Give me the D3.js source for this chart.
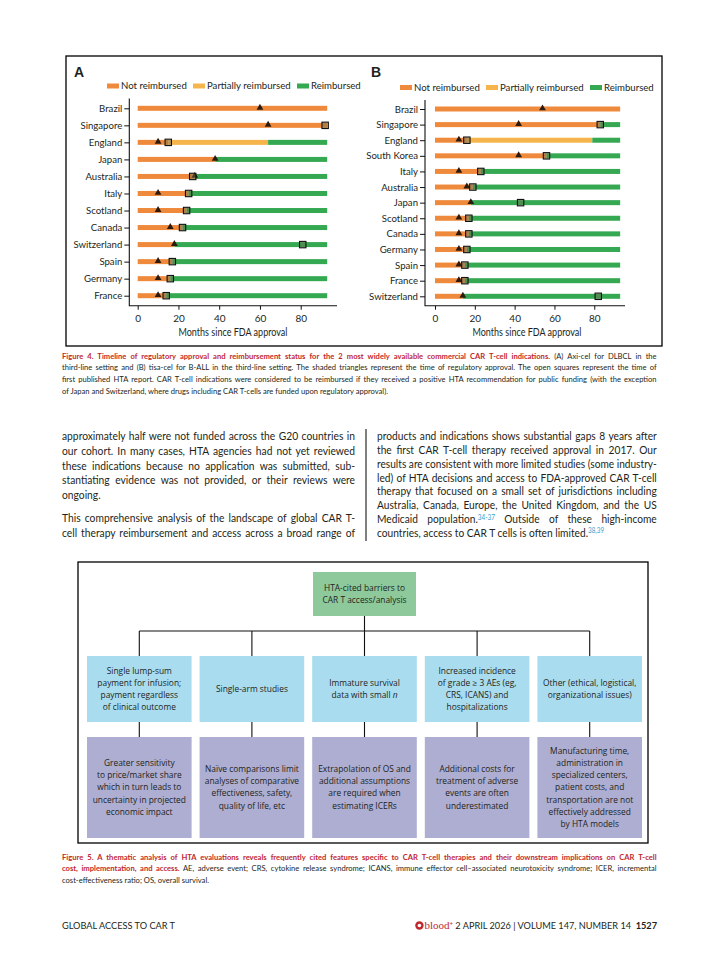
<!DOCTYPE html>
<html><head><meta charset="utf-8">
<script src="https://cdn.jsdelivr.net/npm/d3@7"></script>
<style>html,body{margin:0;padding:0;background:#fff;}svg{display:block;}</style>
</head><body>
<script>
// ---------- DATA ----------
const statusLabels = ["Not reimbursed", "Partially reimbursed", "Reimbursed"];
const tickValues = [0, 20, 40, 60, 80];
const studyEnd = 93;

const countriesA = ["Brazil","Singapore","England","Japan","Australia","Italy","Scotland","Canada","Switzerland","Spain","Germany","France"];
const approvalA  = [60, 64, 10, 38, 28, 10, 10, 16, 18, 10, 10, 10];
const htaA       = [null, 92, 15, null, 27, 25, 24, 22, 81, 17, 16, 14];
const notEndA    = [93, 93, 15, 38, 28, 25, 24, 22, 18, 17, 16, 14];
const partEndA   = [93, 93, 64, 38, 28, 25, 24, 22, 18, 17, 16, 14];

const countriesB = ["Brazil","Singapore","England","South Korea","Italy","Australia","Japan","Scotland","Canada","Germany","Spain","France","Switzerland"];
const approvalB  = [54, 42, 12, 42, 12, 16, 18, 12, 12, 12, 12, 12, 14];
const htaB       = [null, 83, 16, 56, 23, 19, 43, 17, 17, 16, 15, 15, 82];
const notEndB    = [93, 83, 16, 56, 23, 19, 18, 17, 17, 16, 15, 15, 14];
const partEndB   = [93, 83, 79, 56, 23, 19, 18, 17, 17, 16, 15, 15, 14];

// ---------- STYLE ----------
const C_OR = "#ef8a3c", C_YE = "#f5b54c", C_GR = "#35a852";
const colors = [C_OR, C_YE, C_GR];
const INK = "#231f20", RED = "#c1272d", LINK = "#3a9ccc";
const FONT = "Lato, 'Open Sans', sans-serif";

const svg = d3.select("body").append("svg").attr("width", 719).attr("height", 965);
svg.append("rect").attr("width", 719).attr("height", 965).attr("fill", "#fff");

// Figure 4 frame
svg.append("rect").attr("x", 66).attr("y", 56).attr("width", 596).attr("height", 290)
  .attr("fill", "none").attr("stroke", "#000").attr("stroke-width", 1.3);

function panel(opt) {
  const g = svg.append("g");
  const x = d3.scaleLinear().domain([0, studyEnd]).range([opt.x0, opt.x0 + studyEnd * opt.pxPerMonth]);
  const y = d3.scalePoint().domain(opt.countries).range([opt.yTop, opt.yBot]);
  g.append("text").attr("x", opt.letterX).attr("y", 77).text(opt.letter)
    .attr("font-family", "'Liberation Sans', Arial, sans-serif").attr("font-weight", "bold").attr("font-size", 14).attr("fill", INK);
  statusLabels.forEach((s, i) => {
    const lx = opt.legendX[i];
    g.append("rect").attr("x", lx).attr("y", opt.legendY - 2.5).attr("width", 12).attr("height", 5).attr("fill", colors[i]);
    g.append("text").attr("x", lx + 14).attr("y", opt.legendY + 3.3).text(s)
      .attr("font-family", FONT).attr("font-size", 9.6).attr("fill", INK);
  });
  const rows = opt.countries.map((c, i) => ({
    c, segs: [[0, opt.notEnd[i], 0], [opt.notEnd[i], opt.partEnd[i], 1], [opt.partEnd[i], studyEnd, 2]].filter(s => s[1] > s[0]),
    a: opt.approval[i], h: opt.hta[i]
  }));
  const bh = 5;
  rows.forEach(r => {
    g.selectAll(null).data(r.segs).enter().append("rect")
      .attr("x", d => x(d[0])).attr("width", d => x(d[1]) - x(d[0]))
      .attr("y", y(r.c) - bh / 2).attr("height", bh).attr("fill", d => colors[d[2]]);
  });
  g.selectAll(null).data(rows).enter().append("path")
    .attr("d", d3.symbol(d3.symbolTriangle).size(20))
    .attr("transform", d => `translate(${x(d.a)},${y(d.c) - 0.6})`)
    .attr("fill", "#2a1a10");
  g.selectAll(null).data(rows.filter(d => d.h != null)).enter().append("rect")
    .attr("x", d => x(d.h) - 3.2).attr("y", d => y(d.c) - 3.2).attr("width", 6.4).attr("height", 6.4)
    .attr("fill", "rgba(110,110,80,0.45)").attr("stroke", "#111").attr("stroke-width", 1.1);
  const ax = g.append("g").attr("transform", `translate(0,${opt.axisY})`)
    .call(d3.axisBottom(x).tickValues(tickValues).tickSize(4).tickSizeOuter(0));
  ax.select(".domain").remove();
  ax.selectAll("line").attr("stroke", "#111");
  ax.selectAll("text").attr("font-family", FONT).attr("font-size", 10).attr("fill", INK).attr("dy", "0.9em");
  const ay = g.append("g").attr("transform", `translate(${opt.axisX},0)`)
    .call(d3.axisLeft(y).tickSize(5).tickPadding(2).tickSizeOuter(0));
  ay.select(".domain").remove();
  ay.selectAll("line").attr("stroke", "#111");
  ay.selectAll("text").attr("font-family", FONT).attr("font-size", 9.6).attr("fill", INK);
  g.append("path").attr("d", `M${opt.axisX},${opt.axisTop}V${opt.axisY}H${opt.axisEnd}`)
    .attr("fill", "none").attr("stroke", "#111").attr("stroke-width", 1.1);
  const t = g.append("text").text("Months since FDA approval")
    .attr("font-family", FONT).attr("font-size", 10.5).attr("fill", INK).attr("text-anchor", "middle");
  t.attr("transform", `translate(${opt.titleX},${opt.titleY}) scale(0.86,1)`);
}

panel({ letter: "A", letterX: 74, legendX: [107, 193, 297], legendY: 86,
  countries: countriesA, approval: approvalA, hta: htaA, notEnd: notEndA, partEnd: partEndA,
  x0: 137.7, pxPerMonth: 2.0375, yTop: 108.3, yBot: 295.7, axisX: 129.3, axisY: 305.7, axisTop: 98.5, axisEnd: 337,
  titleX: 233, titleY: 336 });
panel({ letter: "B", letterX: 371, legendX: [400, 486, 590], legendY: 87.5,
  countries: countriesB, approval: approvalB, hta: htaB, notEnd: notEndB, partEnd: partEndB,
  x0: 435, pxPerMonth: 1.991, yTop: 109, yBot: 296.3, axisX: 425, axisY: 305.7, axisTop: 100, axisEnd: 625,
  titleX: 527, titleY: 336 });

// ---------- justified paragraph helper ----------
function paragraph(x, width, size, lines, maxScale) {
  const made = lines.map(l => {
    const t = svg.append("text").attr("font-family", FONT).attr("font-size", size).attr("fill", INK);
    l.parts.forEach(p => {
      const s = t.append("tspan").text(p.t).attr("fill", p.c || INK);
      if (p.b) s.attr("font-weight", "bold");
      if (p.sup) s.attr("font-size", size * 0.62).attr("baseline-shift", "super");
    });
    const L = t.node().getComputedTextLength();
    const n = l.parts.reduce((a, p) => a + (p.t.match(/ /g) || []).length, 0);
    return { t, L, n, l };
  });
  let kPara = maxScale;
  made.forEach(m => { if (!m.l.last) kPara = Math.min(kPara, width / m.L); });
  const ks = [];
  made.forEach(m => {
    if (m.l.last) return;
    const own = Math.min(maxScale, width / m.L);
    m.k = kPara + 0.5 * (own - kPara);
    ks.push(m.k);
    if (m.n > 0) m.t.attr("word-spacing", (width / m.k - m.L) / m.n);
  });
  const kAvg = d3.mean(ks);
  made.forEach(m => {
    const k = m.l.last ? kAvg : m.k;
    m.t.attr("transform", `translate(${x},${m.l.y}) scale(${k},1)`);
  });
}

const capSize = 8;
paragraph(62, 595, capSize, [
  { y: 358.5, parts: [{ t: "Figure 4. Timeline of regulatory approval and reimbursement status for the 2 most widely available commercial CAR T-cell indications.", c: RED, b: true }, { t: " (A) Axi-cel for DLBCL in the" }] },
  { y: 370.3, parts: [{ t: "third-line setting and (B) tisa-cel for B-ALL in the third-line setting. The shaded triangles represent the time of regulatory approval. The open squares represent the time of" }] },
  { y: 382.1, parts: [{ t: "first published HTA report. CAR T-cell indications were considered to be reimbursed if they received a positive HTA recommendation for public funding (with the exception" }] },
  { y: 393.9, last: true, parts: [{ t: "of Japan and Switzerland, where drugs including CAR T-cells are funded upon regulatory approval)." }] }
], 0.95);

const bodySize = 10.6;
const leftLines = [
  "approximately half were not funded across the G20 countries in",
  "our cohort. In many cases, HTA agencies had not yet reviewed",
  "these indications because no application was submitted, sub-",
  "stantiating evidence was not provided, or their reviews were",
  "ongoing.",
  "This comprehensive analysis of the landscape of global CAR T-",
  "cell therapy reimbursement and access across a broad range of"];
const leftY = [440, 454.8, 469.6, 484.4, 499, 522, 536.5];
paragraph(62, 293, bodySize, leftLines.map((s, i) => ({ y: leftY[i], last: i === 4, parts: [{ t: s }] })), 0.97);

const rightY = [440, 453.8, 467.6, 481.5, 495.3, 509.1, 522.8, 536.5];
const rightParts = [
  [{ t: "products and indications shows substantial gaps 8 years after" }],
  [{ t: "the first CAR T-cell therapy received approval in 2017. Our" }],
  [{ t: "results are consistent with more limited studies (some industry-" }],
  [{ t: "led) of HTA decisions and access to FDA-approved CAR T-cell" }],
  [{ t: "therapy that focused on a small set of jurisdictions including" }],
  [{ t: "Australia, Canada, Europe, the United Kingdom, and the US" }],
  [{ t: "Medicaid population." }, { t: "34-37", sup: true, c: LINK }, { t: " Outside of these high-income" }],
  [{ t: "countries, access to CAR T cells is often limited." }, { t: "38,39", sup: true, c: LINK }]];
paragraph(377, 280, bodySize, rightParts.map((p, i) => ({ y: rightY[i], last: i === 7, parts: p })), 0.97);
svg.append("line").attr("x1", 366).attr("x2", 366).attr("y1", 429).attr("y2", 541).attr("stroke", "#000").attr("stroke-width", 1);

// ---------- Figure 5 ----------
svg.append("rect").attr("x", 78).attr("y", 562).attr("width", 570).attr("height", 281)
  .attr("fill", "none").attr("stroke", "#000").attr("stroke-width", 1.3);
const boxFont = "'Open Sans', 'Noto Sans', sans-serif";
function boxText(cx, cy, lines, size) {
  const lh = 12.1;
  const t = svg.append("text").attr("font-family", boxFont).attr("font-size", size).attr("fill", INK).attr("text-anchor", "middle");
  lines.forEach((l, i) => {
    const ts = t.append("tspan").attr("x", cx).attr("y", cy + (i - (lines.length - 1) / 2) * lh + size * 0.35);
    (Array.isArray(l) ? l : [{ t: l }]).forEach(p => {
      const s = ts.append("tspan").text(p.t);
      if (p.i) s.attr("font-style", "italic");
    });
  });
  return t;
}
const topBox = { x: 313, y: 572, w: 103, h: 44 };
svg.append("rect").attr("x", topBox.x).attr("y", topBox.y).attr("width", topBox.w).attr("height", topBox.h).attr("fill", "#8dc99b");
boxText(topBox.x + topBox.w / 2, topBox.y + topBox.h / 2, ["HTA-cited barriers to", "CAR T access/analysis"], 8.4);

const midLines = [
  ["Single lump-sum", "payment for infusion;", "payment regardless", "of clinical outcome"],
  ["Single-arm studies"],
  ["Immature survival", [{ t: "data with small " }, { t: "n", i: true }]],
  ["Increased incidence", "of grade \u2265 3 AEs (eg,", "CRS, ICANS) and", "hospitalizations"],
  ["Other (ethical, logistical,", "organizational issues)"]];
const lowLines = [
  ["Greater sensitivity", "to price/market share", "which in turn leads to", "uncertainty in projected", "economic impact"],
  ["Na\u00efve comparisons limit", "analyses of comparative", "effectiveness, safety,", "quality of life, etc"],
  ["Extrapolation of OS and", "additional assumptions", "are required when", "estimating ICERs"],
  ["Additional costs for", "treatment of adverse", "events are often", "underestimated"],
  ["Manufacturing time,", "administration in", "specialized centers,", "patient costs, and", "transportation are not", "effectively addressed", "by HTA models"]];
const bx0 = 87, bw = 104.6, bgap = 8;
const cx = i => bx0 + i * (bw + bgap) + bw / 2;
const midY = 656, midH = 66, lowY = 737, lowH = 101, hY = 631;
const conn = svg.append("g").attr("stroke", "#111").attr("stroke-width", 1.1).attr("fill", "none");
conn.append("path").attr("d", `M${topBox.x + topBox.w / 2},${topBox.y + topBox.h}V${hY}M${cx(0)},${hY}H${cx(4)}`);
midLines.forEach((l, i) => {
  conn.append("path").attr("d", `M${cx(i)},${hY}V${midY}M${cx(i)},${midY + midH}V${lowY}`);
  svg.append("rect").attr("x", cx(i) - bw / 2).attr("y", midY).attr("width", bw).attr("height", midH).attr("fill", "#a9dcef");
  boxText(cx(i), midY + midH / 2, l, 8.4);
  svg.append("rect").attr("x", cx(i) - bw / 2).attr("y", lowY).attr("width", bw).attr("height", lowH).attr("fill", "#adaed1");
  boxText(cx(i), lowY + lowH / 2, lowLines[i], 8.4);
});

paragraph(62, 595, capSize, [
  { y: 859.5, parts: [{ t: "Figure 5. A thematic analysis of HTA evaluations reveals frequently cited features specific to CAR T-cell therapies and their downstream implications on CAR T-cell", c: RED, b: true }] },
  { y: 871.3, parts: [{ t: "cost, implementation, and access.", c: RED, b: true }, { t: " AE, adverse event; CRS, cytokine release syndrome; ICANS, immune effector cell\u2013associated neurotoxicity syndrome; ICER, incremental" }] },
  { y: 883.1, last: true, parts: [{ t: "cost-effectiveness ratio; OS, overall survival." }] }
], 0.95);

// Footer
svg.append("text").attr("x", 62).attr("y", 929).text("GLOBAL ACCESS TO CAR T")
  .attr("font-family", FONT).attr("font-size", 9.2).attr("fill", INK);
const ft = svg.append("text").attr("x", 657).attr("y", 929).attr("text-anchor", "end").attr("font-family", FONT).attr("font-size", 9.2).attr("fill", INK);
ft.append("tspan").text("blood").attr("fill", RED).attr("font-family", "'Liberation Serif', 'DejaVu Serif', serif").attr("font-size", 11);
ft.append("tspan").text("+").attr("fill", RED).attr("font-size", 6).attr("baseline-shift", "super");
ft.append("tspan").text(" 2 APRIL 2026 | VOLUME 147, NUMBER 14 ");
ft.append("tspan").text("\u00a01527").attr("font-weight", "bold");
const fb = ft.node().getBBox();
svg.append("circle").attr("cx", fb.x - 5).attr("cy", 925.5).attr("r", 4.2).attr("fill", RED);
svg.append("circle").attr("cx", fb.x - 5).attr("cy", 925.5).attr("r", 1.8).attr("fill", "#fff");
</script>
</body></html>
